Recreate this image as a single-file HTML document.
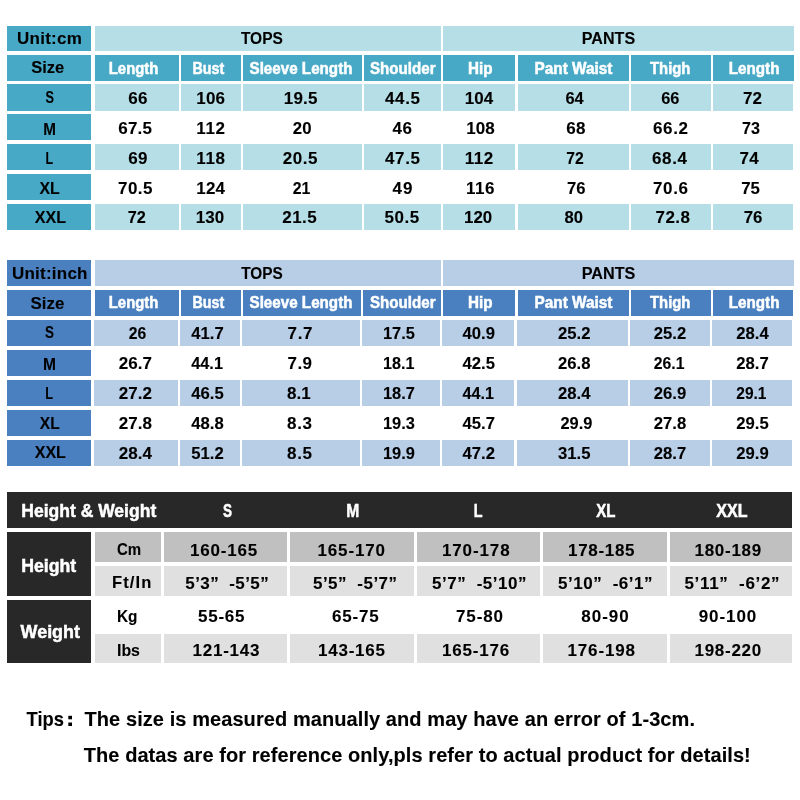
<!DOCTYPE html>
<html><head><meta charset="utf-8"><style>
html,body{margin:0;padding:0;background:#fff;}
body{width:800px;height:800px;overflow:hidden;}
svg{display:block;will-change:transform;font-family:"Liberation Sans",sans-serif;font-weight:bold;}
text{white-space:pre;}
.k{stroke:#000;stroke-width:0.1px;}
.w{stroke:#fff;stroke-width:0.5px;}
</style></head><body><svg width="800" height="800" viewBox="0 0 800 800">
<rect width="800" height="800" fill="#fff"/>
<rect x="7" y="26" width="84" height="25" fill="#48a9c6"/>
<rect x="95" y="26" width="346" height="25" fill="#b6dee6"/>
<rect x="443" y="26" width="351" height="25" fill="#b6dee6"/>
<rect x="7" y="55" width="84" height="26" fill="#48a9c6"/>
<rect x="95" y="55" width="84" height="26" fill="#48a9c6"/>
<rect x="181" y="55" width="60" height="26" fill="#48a9c6"/>
<rect x="243" y="55" width="119" height="26" fill="#48a9c6"/>
<rect x="364" y="55" width="77" height="26" fill="#48a9c6"/>
<rect x="443" y="55" width="72" height="26" fill="#48a9c6"/>
<rect x="518" y="55" width="111" height="26" fill="#48a9c6"/>
<rect x="631" y="55" width="80" height="26" fill="#48a9c6"/>
<rect x="713" y="55" width="81" height="26" fill="#48a9c6"/>
<rect x="7" y="84" width="84" height="27" fill="#48a9c6"/>
<rect x="95" y="84" width="84" height="27" fill="#b6dee6"/>
<rect x="181" y="84" width="60" height="27" fill="#b6dee6"/>
<rect x="243" y="84" width="119" height="27" fill="#b6dee6"/>
<rect x="364" y="84" width="77" height="27" fill="#b6dee6"/>
<rect x="443" y="84" width="72" height="27" fill="#b6dee6"/>
<rect x="518" y="84" width="111" height="27" fill="#b6dee6"/>
<rect x="631" y="84" width="80" height="27" fill="#b6dee6"/>
<rect x="713" y="84" width="80" height="27" fill="#b6dee6"/>
<rect x="7" y="114" width="84" height="26" fill="#48a9c6"/>
<rect x="7" y="144" width="84" height="26" fill="#48a9c6"/>
<rect x="95" y="144" width="84" height="26" fill="#b6dee6"/>
<rect x="181" y="144" width="60" height="26" fill="#b6dee6"/>
<rect x="243" y="144" width="119" height="26" fill="#b6dee6"/>
<rect x="364" y="144" width="77" height="26" fill="#b6dee6"/>
<rect x="443" y="144" width="72" height="26" fill="#b6dee6"/>
<rect x="518" y="144" width="111" height="26" fill="#b6dee6"/>
<rect x="631" y="144" width="80" height="26" fill="#b6dee6"/>
<rect x="713" y="144" width="80" height="26" fill="#b6dee6"/>
<rect x="7" y="174" width="84" height="26" fill="#48a9c6"/>
<rect x="7" y="204" width="84" height="26" fill="#48a9c6"/>
<rect x="95" y="204" width="84" height="26" fill="#b6dee6"/>
<rect x="181" y="204" width="60" height="26" fill="#b6dee6"/>
<rect x="243" y="204" width="119" height="26" fill="#b6dee6"/>
<rect x="364" y="204" width="77" height="26" fill="#b6dee6"/>
<rect x="443" y="204" width="72" height="26" fill="#b6dee6"/>
<rect x="518" y="204" width="111" height="26" fill="#b6dee6"/>
<rect x="631" y="204" width="80" height="26" fill="#b6dee6"/>
<rect x="713" y="204" width="80" height="26" fill="#b6dee6"/>
<rect x="7" y="260" width="84" height="26" fill="#4a80c0"/>
<rect x="95" y="260" width="346" height="26" fill="#b8cde6"/>
<rect x="443" y="260" width="351" height="26" fill="#b8cde6"/>
<rect x="7" y="290" width="84" height="26" fill="#4a80c0"/>
<rect x="95" y="290" width="84" height="26" fill="#4a80c0"/>
<rect x="181" y="290" width="60" height="26" fill="#4a80c0"/>
<rect x="243" y="290" width="118" height="26" fill="#4a80c0"/>
<rect x="363" y="290" width="78" height="26" fill="#4a80c0"/>
<rect x="443" y="290" width="72" height="26" fill="#4a80c0"/>
<rect x="518" y="290" width="111" height="26" fill="#4a80c0"/>
<rect x="631" y="290" width="80" height="26" fill="#4a80c0"/>
<rect x="713" y="290" width="80" height="26" fill="#4a80c0"/>
<rect x="7" y="320" width="84" height="26" fill="#4a80c0"/>
<rect x="94" y="320" width="84" height="26" fill="#b8cde6"/>
<rect x="180" y="320" width="60" height="26" fill="#b8cde6"/>
<rect x="242" y="320" width="118" height="26" fill="#b8cde6"/>
<rect x="362" y="320" width="78" height="26" fill="#b8cde6"/>
<rect x="442" y="320" width="72" height="26" fill="#b8cde6"/>
<rect x="517" y="320" width="111" height="26" fill="#b8cde6"/>
<rect x="630" y="320" width="80" height="26" fill="#b8cde6"/>
<rect x="712" y="320" width="80" height="26" fill="#b8cde6"/>
<rect x="7" y="350" width="84" height="26" fill="#4a80c0"/>
<rect x="7" y="380" width="84" height="26" fill="#4a80c0"/>
<rect x="94" y="380" width="84" height="26" fill="#b8cde6"/>
<rect x="180" y="380" width="60" height="26" fill="#b8cde6"/>
<rect x="242" y="380" width="118" height="26" fill="#b8cde6"/>
<rect x="362" y="380" width="78" height="26" fill="#b8cde6"/>
<rect x="442" y="380" width="72" height="26" fill="#b8cde6"/>
<rect x="517" y="380" width="111" height="26" fill="#b8cde6"/>
<rect x="630" y="380" width="80" height="26" fill="#b8cde6"/>
<rect x="712" y="380" width="80" height="26" fill="#b8cde6"/>
<rect x="7" y="410" width="84" height="26" fill="#4a80c0"/>
<rect x="7" y="440" width="84" height="26" fill="#4a80c0"/>
<rect x="94" y="440" width="84" height="26" fill="#b8cde6"/>
<rect x="180" y="440" width="60" height="26" fill="#b8cde6"/>
<rect x="242" y="440" width="118" height="26" fill="#b8cde6"/>
<rect x="362" y="440" width="78" height="26" fill="#b8cde6"/>
<rect x="442" y="440" width="72" height="26" fill="#b8cde6"/>
<rect x="517" y="440" width="111" height="26" fill="#b8cde6"/>
<rect x="630" y="440" width="80" height="26" fill="#b8cde6"/>
<rect x="712" y="440" width="80" height="26" fill="#b8cde6"/>
<rect x="7" y="492" width="785" height="36" fill="#282828"/>
<rect x="7" y="532" width="84" height="64" fill="#282828"/>
<rect x="7" y="600" width="84" height="63" fill="#282828"/>
<rect x="95" y="532" width="66" height="30" fill="#c0c0c0"/>
<rect x="164" y="532" width="123" height="30" fill="#c0c0c0"/>
<rect x="290" y="532" width="124" height="30" fill="#c0c0c0"/>
<rect x="417" y="532" width="123" height="30" fill="#c0c0c0"/>
<rect x="543" y="532" width="124" height="30" fill="#c0c0c0"/>
<rect x="670" y="532" width="122" height="30" fill="#c0c0c0"/>
<rect x="95" y="566" width="66" height="30" fill="#e0e0e0"/>
<rect x="164" y="566" width="123" height="30" fill="#e0e0e0"/>
<rect x="290" y="566" width="124" height="30" fill="#e0e0e0"/>
<rect x="417" y="566" width="123" height="30" fill="#e0e0e0"/>
<rect x="543" y="566" width="124" height="30" fill="#e0e0e0"/>
<rect x="670" y="566" width="122" height="30" fill="#e0e0e0"/>
<rect x="95" y="634" width="66" height="29" fill="#e0e0e0"/>
<rect x="164" y="634" width="123" height="29" fill="#e0e0e0"/>
<rect x="290" y="634" width="124" height="29" fill="#e0e0e0"/>
<rect x="417" y="634" width="123" height="29" fill="#e0e0e0"/>
<rect x="543" y="634" width="124" height="29" fill="#e0e0e0"/>
<rect x="670" y="634" width="122" height="29" fill="#e0e0e0"/>
<rect x="68.3" y="715.8" width="3.700000000000003" height="3.5" fill="#000"/>
<rect x="68.3" y="722.5" width="3.700000000000003" height="3.5" fill="#000"/>
<text class="k" transform="translate(16.90,44.00) scale(1.0000,1.000)" font-size="17.0" fill="#000" letter-spacing="0.286">Unit:cm</text>
<text class="k" transform="translate(240.90,44.10) scale(0.9133,1.000)" font-size="17.0" fill="#000">TOPS</text>
<text class="k" transform="translate(581.80,44.00) scale(0.9476,1.000)" font-size="17.0" fill="#000">PANTS</text>
<text class="k" transform="translate(31.25,73.00) scale(0.9721,1.000)" font-size="17.0" fill="#000">Size</text>
<text class="w" transform="translate(108.75,73.50) scale(0.9159,1.000)" font-size="16.3" fill="#fff">Length</text>
<text class="w" transform="translate(192.50,73.50) scale(0.8764,1.000)" font-size="16.3" fill="#fff">Bust</text>
<text class="w" transform="translate(249.50,73.50) scale(0.9320,1.000)" font-size="16.3" fill="#fff">Sleeve Length</text>
<text class="w" transform="translate(370.00,73.50) scale(0.9275,1.000)" font-size="16.3" fill="#fff">Shoulder</text>
<text class="w" transform="translate(468.00,73.50) scale(0.9336,1.000)" font-size="16.3" fill="#fff">Hip</text>
<text class="w" transform="translate(534.50,73.50) scale(0.9429,1.000)" font-size="16.3" fill="#fff">Pant Waist</text>
<text class="w" transform="translate(650.00,73.50) scale(0.9126,1.000)" font-size="16.3" fill="#fff">Thigh</text>
<text class="w" transform="translate(728.75,73.50) scale(0.9343,1.000)" font-size="16.3" fill="#fff">Length</text>
<text class="k" transform="translate(45.50,102.70) scale(0.7361,1.000)" font-size="17.3" fill="#000">S</text>
<text class="k" transform="translate(128.25,104.00) scale(1.0000,1.000)" font-size="17.0" fill="#000" letter-spacing="0.337">66</text>
<text class="k" transform="translate(196.25,104.00) scale(1.0000,1.000)" font-size="17.0" fill="#000" letter-spacing="0.201">106</text>
<text class="k" transform="translate(283.80,104.00) scale(1.0000,1.000)" font-size="17.0" fill="#000" letter-spacing="0.197">19.5</text>
<text class="k" transform="translate(385.00,104.00) scale(1.0000,1.000)" font-size="17.0" fill="#000" letter-spacing="0.631">44.5</text>
<text class="k" transform="translate(464.75,104.00) scale(1.0000,1.000)" font-size="17.0" fill="#000" letter-spacing="0.001">104</text>
<text class="k" transform="translate(565.50,104.00) scale(0.9650,1.000)" font-size="17.0" fill="#000">64</text>
<text class="k" transform="translate(661.25,104.00) scale(0.9650,1.000)" font-size="17.0" fill="#000">66</text>
<text class="k" transform="translate(743.00,104.00) scale(1.0000,1.000)" font-size="17.0" fill="#000" letter-spacing="0.087">72</text>
<text class="k" transform="translate(43.30,135.00) scale(0.8818,1.000)" font-size="17.3" fill="#000">M</text>
<text class="k" transform="translate(118.25,134.00) scale(1.0000,1.000)" font-size="17.0" fill="#000" letter-spacing="0.214">67.5</text>
<text class="k" transform="translate(196.25,134.00) scale(1.0000,1.000)" font-size="17.0" fill="#000" letter-spacing="0.669">112</text>
<text class="k" transform="translate(292.80,134.00) scale(0.9888,1.000)" font-size="17.0" fill="#000">20</text>
<text class="k" transform="translate(392.50,134.00) scale(1.0000,1.000)" font-size="17.0" fill="#000" letter-spacing="0.587">46</text>
<text class="k" transform="translate(466.25,134.00) scale(1.0000,1.000)" font-size="17.0" fill="#000" letter-spacing="0.101">108</text>
<text class="k" transform="translate(566.25,134.00) scale(1.0000,1.000)" font-size="17.0" fill="#000" letter-spacing="0.337">68</text>
<text class="k" transform="translate(653.00,134.00) scale(1.0000,1.000)" font-size="17.0" fill="#000" letter-spacing="0.631">66.2</text>
<text class="k" transform="translate(742.00,134.00) scale(0.9518,1.000)" font-size="17.0" fill="#000">73</text>
<text class="k" transform="translate(45.40,164.00) scale(0.7202,1.000)" font-size="17.3" fill="#000">L</text>
<text class="k" transform="translate(128.25,164.00) scale(1.0000,1.000)" font-size="17.0" fill="#000" letter-spacing="0.337">69</text>
<text class="k" transform="translate(196.25,164.00) scale(1.0000,1.000)" font-size="17.0" fill="#000" letter-spacing="0.669">118</text>
<text class="k" transform="translate(282.80,164.00) scale(1.0000,1.000)" font-size="17.0" fill="#000" letter-spacing="0.531">20.5</text>
<text class="k" transform="translate(385.00,164.00) scale(1.0000,1.000)" font-size="17.0" fill="#000" letter-spacing="0.631">47.5</text>
<text class="k" transform="translate(464.75,164.00) scale(1.0000,1.000)" font-size="17.0" fill="#000" letter-spacing="0.469">112</text>
<text class="k" transform="translate(566.25,164.00) scale(0.9253,1.000)" font-size="17.0" fill="#000">72</text>
<text class="k" transform="translate(652.00,164.00) scale(1.0000,1.000)" font-size="17.0" fill="#000" letter-spacing="0.631">68.4</text>
<text class="k" transform="translate(739.50,164.00) scale(1.0000,1.000)" font-size="17.0" fill="#000" letter-spacing="0.337">74</text>
<text class="k" transform="translate(39.40,193.75) scale(0.9185,1.000)" font-size="17.3" fill="#000">XL</text>
<text class="k" transform="translate(118.00,194.00) scale(1.0000,1.000)" font-size="17.0" fill="#000" letter-spacing="0.464">70.5</text>
<text class="k" transform="translate(196.25,194.00) scale(1.0000,1.000)" font-size="17.0" fill="#000" letter-spacing="0.201">124</text>
<text class="k" transform="translate(292.80,194.00) scale(0.9306,1.000)" font-size="17.0" fill="#000">21</text>
<text class="k" transform="translate(392.50,194.00) scale(1.0000,1.000)" font-size="17.0" fill="#000" letter-spacing="1.087">49</text>
<text class="k" transform="translate(465.90,194.00) scale(1.0000,1.000)" font-size="17.0" fill="#000" letter-spacing="0.544">116</text>
<text class="k" transform="translate(567.00,194.00) scale(0.9782,1.000)" font-size="17.0" fill="#000">76</text>
<text class="k" transform="translate(653.00,194.00) scale(1.0000,1.000)" font-size="17.0" fill="#000" letter-spacing="0.631">70.6</text>
<text class="k" transform="translate(741.25,194.00) scale(0.9914,1.000)" font-size="17.0" fill="#000">75</text>
<text class="k" transform="translate(34.70,223.20) scale(0.9302,1.000)" font-size="17.3" fill="#000">XXL</text>
<text class="k" transform="translate(127.80,223.25) scale(0.9570,1.000)" font-size="17.0" fill="#000">72</text>
<text class="k" transform="translate(195.75,223.25) scale(1.0000,1.000)" font-size="17.0" fill="#000" letter-spacing="0.076">130</text>
<text class="k" transform="translate(282.30,223.25) scale(1.0000,1.000)" font-size="17.0" fill="#000" letter-spacing="0.398">21.5</text>
<text class="k" transform="translate(384.50,223.25) scale(1.0000,1.000)" font-size="17.0" fill="#000" letter-spacing="0.547">50.5</text>
<text class="k" transform="translate(464.00,223.25) scale(0.9948,1.000)" font-size="17.0" fill="#000">120</text>
<text class="k" transform="translate(564.50,223.25) scale(0.9782,1.000)" font-size="17.0" fill="#000">80</text>
<text class="k" transform="translate(655.50,223.25) scale(1.0000,1.000)" font-size="17.0" fill="#000" letter-spacing="0.464">72.8</text>
<text class="k" transform="translate(743.75,223.25) scale(0.9914,1.000)" font-size="17.0" fill="#000">76</text>
<text class="k" transform="translate(11.90,279.00) scale(1.0000,1.000)" font-size="17.0" fill="#000" letter-spacing="0.243">Unit:inch</text>
<text class="k" transform="translate(241.20,279.20) scale(0.9046,1.000)" font-size="17.0" fill="#000">TOPS</text>
<text class="k" transform="translate(581.70,279.20) scale(0.9529,1.000)" font-size="17.0" fill="#000">PANTS</text>
<text class="k" transform="translate(30.60,308.50) scale(0.9941,1.000)" font-size="17.0" fill="#000">Size</text>
<text class="w" transform="translate(108.75,308.00) scale(0.9159,1.000)" font-size="16.3" fill="#fff">Length</text>
<text class="w" transform="translate(192.50,308.00) scale(0.8764,1.000)" font-size="16.3" fill="#fff">Bust</text>
<text class="w" transform="translate(249.50,308.00) scale(0.9320,1.000)" font-size="16.3" fill="#fff">Sleeve Length</text>
<text class="w" transform="translate(370.00,308.00) scale(0.9275,1.000)" font-size="16.3" fill="#fff">Shoulder</text>
<text class="w" transform="translate(468.00,308.00) scale(0.9336,1.000)" font-size="16.3" fill="#fff">Hip</text>
<text class="w" transform="translate(534.50,308.00) scale(0.9429,1.000)" font-size="16.3" fill="#fff">Pant Waist</text>
<text class="w" transform="translate(650.00,308.00) scale(0.9126,1.000)" font-size="16.3" fill="#fff">Thigh</text>
<text class="w" transform="translate(728.75,308.00) scale(0.9343,1.000)" font-size="16.3" fill="#fff">Length</text>
<text class="k" transform="translate(45.00,337.75) scale(0.7794,1.000)" font-size="17.3" fill="#000">S</text>
<text class="k" transform="translate(128.75,339.00) scale(0.9253,1.000)" font-size="17.0" fill="#000">26</text>
<text class="k" transform="translate(191.25,339.00) scale(0.9817,1.000)" font-size="17.0" fill="#000">41.7</text>
<text class="k" transform="translate(287.50,339.00) scale(1.0000,1.000)" font-size="17.0" fill="#000" letter-spacing="0.685">7.7</text>
<text class="k" transform="translate(383.00,339.00) scale(0.9665,1.000)" font-size="17.0" fill="#000">17.5</text>
<text class="k" transform="translate(462.50,339.00) scale(0.9817,1.000)" font-size="17.0" fill="#000">40.9</text>
<text class="k" transform="translate(558.00,339.00) scale(0.9817,1.000)" font-size="17.0" fill="#000">25.2</text>
<text class="k" transform="translate(653.75,339.00) scale(0.9817,1.000)" font-size="17.0" fill="#000">25.2</text>
<text class="k" transform="translate(736.25,339.00) scale(0.9817,1.000)" font-size="17.0" fill="#000">28.4</text>
<text class="k" transform="translate(43.00,370.30) scale(0.9026,1.000)" font-size="17.3" fill="#000">M</text>
<text class="k" transform="translate(118.75,369.25) scale(1.0000,1.000)" font-size="17.0" fill="#000" letter-spacing="0.047">26.7</text>
<text class="k" transform="translate(191.25,369.25) scale(0.9590,1.000)" font-size="17.0" fill="#000">44.1</text>
<text class="k" transform="translate(287.50,369.25) scale(1.0000,1.000)" font-size="17.0" fill="#000" letter-spacing="0.435">7.9</text>
<text class="k" transform="translate(383.00,369.25) scale(0.9514,1.000)" font-size="17.0" fill="#000">18.1</text>
<text class="k" transform="translate(462.50,369.25) scale(0.9817,1.000)" font-size="17.0" fill="#000">42.5</text>
<text class="k" transform="translate(558.00,369.25) scale(0.9817,1.000)" font-size="17.0" fill="#000">26.8</text>
<text class="k" transform="translate(653.75,369.25) scale(0.9288,1.000)" font-size="17.0" fill="#000">26.1</text>
<text class="k" transform="translate(736.25,369.25) scale(0.9817,1.000)" font-size="17.0" fill="#000">28.7</text>
<text class="k" transform="translate(45.30,399.40) scale(0.7391,1.000)" font-size="17.3" fill="#000">L</text>
<text class="k" transform="translate(118.75,399.00) scale(1.0000,1.000)" font-size="17.0" fill="#000" letter-spacing="0.047">27.2</text>
<text class="k" transform="translate(191.25,399.00) scale(0.9817,1.000)" font-size="17.0" fill="#000">46.5</text>
<text class="k" transform="translate(287.00,399.00) scale(1.0000,1.000)" font-size="17.0" fill="#000" letter-spacing="0.060">8.1</text>
<text class="k" transform="translate(383.00,399.00) scale(0.9665,1.000)" font-size="17.0" fill="#000">18.7</text>
<text class="k" transform="translate(462.50,399.00) scale(0.9514,1.000)" font-size="17.0" fill="#000">44.1</text>
<text class="k" transform="translate(558.00,399.00) scale(0.9817,1.000)" font-size="17.0" fill="#000">28.4</text>
<text class="k" transform="translate(653.75,399.00) scale(0.9817,1.000)" font-size="17.0" fill="#000">26.9</text>
<text class="k" transform="translate(736.25,399.00) scale(0.9137,1.000)" font-size="17.0" fill="#000">29.1</text>
<text class="k" transform="translate(39.80,429.00) scale(0.9004,1.000)" font-size="17.3" fill="#000">XL</text>
<text class="k" transform="translate(118.75,429.00) scale(1.0000,1.000)" font-size="17.0" fill="#000" letter-spacing="0.047">27.8</text>
<text class="k" transform="translate(191.25,429.00) scale(0.9817,1.000)" font-size="17.0" fill="#000">48.8</text>
<text class="k" transform="translate(287.00,429.00) scale(1.0000,1.000)" font-size="17.0" fill="#000" letter-spacing="0.685">8.3</text>
<text class="k" transform="translate(383.00,429.00) scale(0.9665,1.000)" font-size="17.0" fill="#000">19.3</text>
<text class="k" transform="translate(462.50,429.00) scale(0.9817,1.000)" font-size="17.0" fill="#000">45.7</text>
<text class="k" transform="translate(560.50,429.00) scale(0.9665,1.000)" font-size="17.0" fill="#000">29.9</text>
<text class="k" transform="translate(653.75,429.00) scale(0.9817,1.000)" font-size="17.0" fill="#000">27.8</text>
<text class="k" transform="translate(736.25,429.00) scale(0.9817,1.000)" font-size="17.0" fill="#000">29.5</text>
<text class="k" transform="translate(34.70,457.80) scale(0.9272,1.000)" font-size="17.3" fill="#000">XXL</text>
<text class="k" transform="translate(118.75,459.00) scale(1.0000,1.000)" font-size="17.0" fill="#000" letter-spacing="0.047">28.4</text>
<text class="k" transform="translate(191.25,459.00) scale(0.9817,1.000)" font-size="17.0" fill="#000">51.2</text>
<text class="k" transform="translate(287.00,459.00) scale(1.0000,1.000)" font-size="17.0" fill="#000" letter-spacing="0.685">8.5</text>
<text class="k" transform="translate(383.00,459.00) scale(0.9665,1.000)" font-size="17.0" fill="#000">19.9</text>
<text class="k" transform="translate(462.50,459.00) scale(0.9817,1.000)" font-size="17.0" fill="#000">47.2</text>
<text class="k" transform="translate(558.00,459.00) scale(0.9817,1.000)" font-size="17.0" fill="#000">31.5</text>
<text class="k" transform="translate(653.75,459.00) scale(0.9817,1.000)" font-size="17.0" fill="#000">28.7</text>
<text class="k" transform="translate(736.25,459.00) scale(0.9817,1.000)" font-size="17.0" fill="#000">29.9</text>
<text class="w" transform="translate(21.25,517.00) scale(0.9474,1.000)" font-size="18.5" fill="#fff">Height &amp; Weight</text>
<text class="w" transform="translate(223.00,517.00) scale(0.7705,1.000)" font-size="17.5" fill="#fff">S</text>
<text class="w" transform="translate(346.25,517.00) scale(0.8923,1.000)" font-size="17.5" fill="#fff">M</text>
<text class="w" transform="translate(473.75,517.00) scale(0.8197,1.000)" font-size="17.5" fill="#fff">L</text>
<text class="w" transform="translate(596.25,517.00) scale(0.8611,1.000)" font-size="17.5" fill="#fff">XL</text>
<text class="w" transform="translate(716.25,517.00) scale(0.9181,1.000)" font-size="17.5" fill="#fff">XXL</text>
<text class="w" transform="translate(21.25,572.00) scale(0.9559,1.000)" font-size="18.5" fill="#fff">Height</text>
<text class="w" transform="translate(20.60,637.50) scale(0.9686,1.000)" font-size="18.5" fill="#fff">Weight</text>
<text class="k" transform="translate(117.00,554.50) scale(0.9114,1.000)" font-size="16.5" fill="#000">Cm</text>
<text class="k" transform="translate(190.00,555.50) scale(1.0000,1.000)" font-size="17.0" fill="#000" letter-spacing="0.802">160-165</text>
<text class="k" transform="translate(317.50,555.50) scale(1.0000,1.000)" font-size="17.0" fill="#000" letter-spacing="0.852">165-170</text>
<text class="k" transform="translate(441.90,555.50) scale(1.0000,1.000)" font-size="17.0" fill="#000" letter-spacing="0.885">170-178</text>
<text class="k" transform="translate(568.00,555.50) scale(1.0000,1.000)" font-size="17.0" fill="#000" letter-spacing="0.685">178-185</text>
<text class="k" transform="translate(694.50,555.50) scale(1.0000,1.000)" font-size="17.0" fill="#000" letter-spacing="0.727">180-189</text>
<text class="k" transform="translate(112.00,588.00) scale(1.0000,1.000)" font-size="16.5" fill="#000" letter-spacing="1.109">Ft/In</text>
<text class="k" transform="translate(185.30,589.00) scale(1.0000,1.000)" font-size="17.0" fill="#000" letter-spacing="0.401">5’3”  -5’5”</text>
<text class="k" transform="translate(313.00,589.00) scale(1.0000,1.000)" font-size="17.0" fill="#000" letter-spacing="0.461">5’5”  -5’7”</text>
<text class="k" transform="translate(432.00,589.00) scale(1.0000,1.000)" font-size="17.0" fill="#000" letter-spacing="0.516">5’7”  -5’10”</text>
<text class="k" transform="translate(558.00,589.00) scale(1.0000,1.000)" font-size="17.0" fill="#000" letter-spacing="0.516">5’10”  -6’1”</text>
<text class="k" transform="translate(684.50,589.00) scale(1.0000,1.000)" font-size="17.0" fill="#000" letter-spacing="0.646">5’11”  -6’2”</text>
<text class="k" transform="translate(117.00,622.25) scale(0.9324,1.000)" font-size="16.5" fill="#000">Kg</text>
<text class="k" transform="translate(198.00,622.00) scale(1.0000,1.000)" font-size="17.0" fill="#000" letter-spacing="0.756">55-65</text>
<text class="k" transform="translate(332.00,622.00) scale(1.0000,1.000)" font-size="17.0" fill="#000" letter-spacing="0.818">65-75</text>
<text class="k" transform="translate(456.00,622.00) scale(1.0000,1.000)" font-size="17.0" fill="#000" letter-spacing="0.881">75-80</text>
<text class="k" transform="translate(581.25,622.00) scale(1.0000,1.000)" font-size="17.0" fill="#000" letter-spacing="1.006">80-90</text>
<text class="k" transform="translate(698.75,622.00) scale(1.0000,1.000)" font-size="17.0" fill="#000" letter-spacing="0.909">90-100</text>
<text class="k" transform="translate(117.00,656.00) scale(0.9647,1.000)" font-size="16.5" fill="#000">Ibs</text>
<text class="k" transform="translate(192.50,655.50) scale(1.0000,1.000)" font-size="17.0" fill="#000" letter-spacing="0.768">121-143</text>
<text class="k" transform="translate(318.00,655.50) scale(1.0000,1.000)" font-size="17.0" fill="#000" letter-spacing="0.768">143-165</text>
<text class="k" transform="translate(441.90,655.50) scale(1.0000,1.000)" font-size="17.0" fill="#000" letter-spacing="0.802">165-176</text>
<text class="k" transform="translate(567.50,655.50) scale(1.0000,1.000)" font-size="17.0" fill="#000" letter-spacing="0.852">176-198</text>
<text class="k" transform="translate(694.50,655.50) scale(1.0000,1.000)" font-size="17.0" fill="#000" letter-spacing="0.727">198-220</text>
<text class="k" transform="translate(26.60,726.00) scale(0.9178,1.000)" font-size="20" fill="#000">Tips</text>
<text class="k" transform="translate(84.50,726.25) scale(1.0000,1.000)" font-size="20" fill="#000" letter-spacing="0.078">The size is measured manually and may have an error of 1-3cm.</text>
<text class="k" transform="translate(83.75,761.75) scale(1.0000,1.000)" font-size="20" fill="#000" letter-spacing="0.069">The datas are for reference only,pls refer to actual product for details!</text>
</svg></body></html>
